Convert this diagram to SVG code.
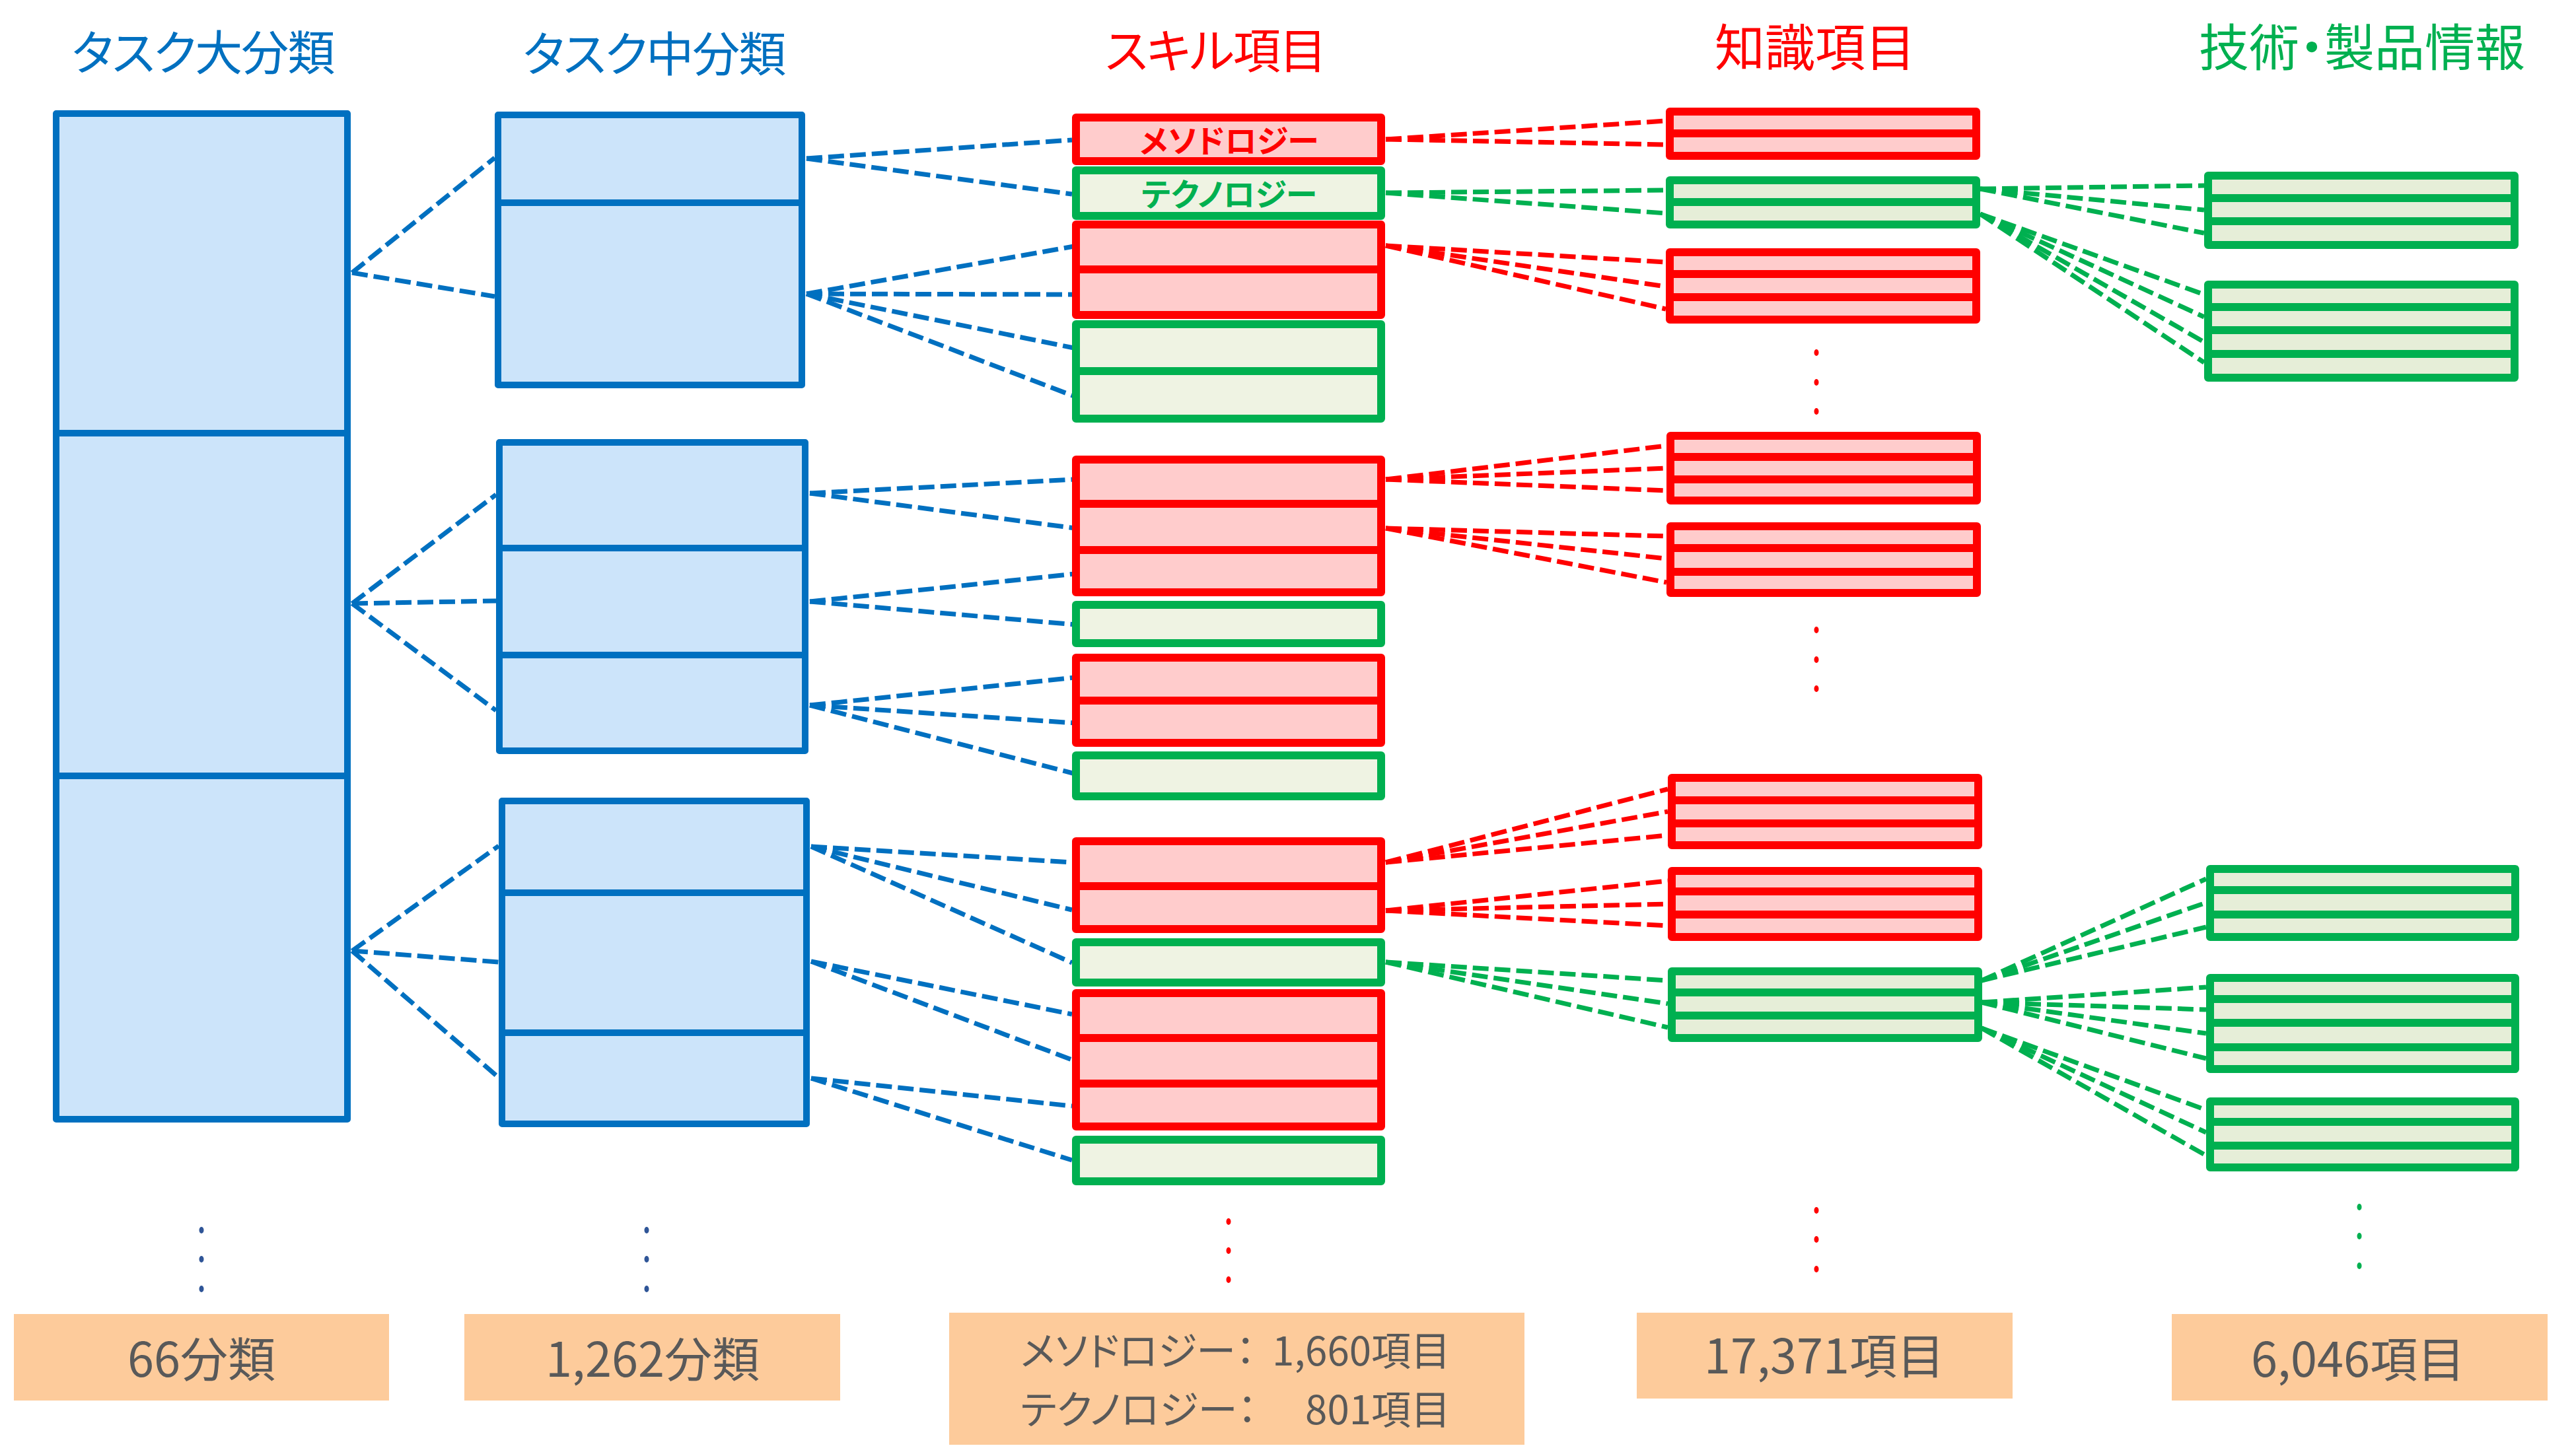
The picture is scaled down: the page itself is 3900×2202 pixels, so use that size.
<svg xmlns="http://www.w3.org/2000/svg" width="3900" height="2202" viewBox="0 0 3900 2202">
<style>
text{font-family:"Noto Sans CJK JP","Noto Sans CJK SC",sans-serif;font-feature-settings:"palt";}
.title{font-size:76px;text-anchor:middle}
.tk{font-size:72px;letter-spacing:-2px}
.tb{fill:#0070C0}.tr{fill:#FF0000}.tg{fill:#00B050}
.blue{fill:#CCE4FA;stroke:#0070C0;stroke-width:10;stroke-linejoin:round}
.red{fill:#FFCCCC;stroke:#FF0000;stroke-width:12;stroke-linejoin:round}
.g3{fill:#EFF3E3;stroke:#00B050;stroke-width:12;stroke-linejoin:round}
.g4{fill:#E6EED8;stroke:#00B050;stroke-width:12;stroke-linejoin:round}
.dr{stroke:#FF0000;stroke-width:12}
.dg{stroke:#00B050;stroke-width:12}
.lbl{font-size:48px;font-weight:bold;text-anchor:middle}
.cnt{fill:#FDCB9B}
.ct{fill:#595959;font-size:72px;text-anchor:middle}
.ct2{fill:#595959;font-size:60px}
#connectors line{fill:none;stroke-width:7;stroke-dasharray:24 9}
.cb line{stroke:#0070C0}.cr line{stroke:#FF0000}.cg line{stroke:#00B050}
.db{fill:#2F5597}.dre{fill:#FF0000}.dgr{fill:#00B050}
</style>

<g id="titles">
<text class="title tk tb" x="307" y="106">タスク大分類</text>
<text class="title tk tb" x="990" y="108">タスク中分類</text>
<text class="title tk tr" x="1840" y="103">スキル項目</text>
<text class="title tr" x="2748" y="100">知識項目</text>
<text class="title tg" x="3576" y="100">技術・製品情報</text>
</g>

<g id="connectors">
<g class="cb">
<line x1="533" y1="413" x2="749" y2="239"/>
<line x1="533" y1="413" x2="749" y2="449"/>
<line x1="533" y1="914" x2="751" y2="749"/>
<line x1="533" y1="914" x2="751" y2="910"/>
<line x1="533" y1="914" x2="751" y2="1076"/>
<line x1="533" y1="1440" x2="755" y2="1281"/>
<line x1="533" y1="1440" x2="755" y2="1457"/>
<line x1="533" y1="1440" x2="755" y2="1632"/>
<line x1="1221" y1="240" x2="1623" y2="212"/>
<line x1="1221" y1="240" x2="1623" y2="294"/>
<line x1="1221" y1="445" x2="1626" y2="373"/>
<line x1="1221" y1="445" x2="1626" y2="446"/>
<line x1="1221" y1="445" x2="1626" y2="527"/>
<line x1="1221" y1="445" x2="1626" y2="600"/>
<line x1="1226" y1="747" x2="1628" y2="726"/>
<line x1="1226" y1="747" x2="1628" y2="800"/>
<line x1="1226" y1="911" x2="1628" y2="869"/>
<line x1="1226" y1="911" x2="1628" y2="946"/>
<line x1="1226" y1="1068" x2="1628" y2="1026"/>
<line x1="1226" y1="1068" x2="1628" y2="1095"/>
<line x1="1226" y1="1068" x2="1628" y2="1172"/>
<line x1="1228" y1="1282" x2="1623" y2="1306"/>
<line x1="1228" y1="1282" x2="1623" y2="1378"/>
<line x1="1228" y1="1282" x2="1623" y2="1458"/>
<line x1="1228" y1="1456" x2="1623" y2="1536"/>
<line x1="1228" y1="1456" x2="1623" y2="1605"/>
<line x1="1228" y1="1633" x2="1623" y2="1675"/>
<line x1="1228" y1="1633" x2="1623" y2="1757"/>
</g>
<g class="cr">
<line x1="2098" y1="211" x2="2522" y2="183"/>
<line x1="2098" y1="211" x2="2522" y2="219"/>
<line x1="2098" y1="372" x2="2522" y2="397"/>
<line x1="2098" y1="372" x2="2522" y2="434"/>
<line x1="2098" y1="372" x2="2522" y2="468"/>
<line x1="2098" y1="726" x2="2523" y2="675"/>
<line x1="2098" y1="726" x2="2523" y2="709"/>
<line x1="2098" y1="726" x2="2523" y2="743"/>
<line x1="2098" y1="800" x2="2523" y2="812"/>
<line x1="2098" y1="800" x2="2523" y2="846"/>
<line x1="2098" y1="800" x2="2523" y2="882"/>
<line x1="2098" y1="1306" x2="2525" y2="1195"/>
<line x1="2098" y1="1306" x2="2525" y2="1229"/>
<line x1="2098" y1="1306" x2="2525" y2="1265"/>
<line x1="2098" y1="1379" x2="2525" y2="1334"/>
<line x1="2098" y1="1379" x2="2525" y2="1369"/>
<line x1="2098" y1="1379" x2="2525" y2="1402"/>
</g>
<g class="cg">
<line x1="2098" y1="292" x2="2522" y2="288"/>
<line x1="2098" y1="292" x2="2522" y2="323"/>
<line x1="2098" y1="1457" x2="2525" y2="1485"/>
<line x1="2098" y1="1457" x2="2525" y2="1520"/>
<line x1="2098" y1="1457" x2="2525" y2="1556"/>
<line x1="2998" y1="286" x2="3337" y2="281"/>
<line x1="2998" y1="286" x2="3337" y2="318"/>
<line x1="2998" y1="286" x2="3337" y2="353"/>
<line x1="2998" y1="324" x2="3337" y2="446"/>
<line x1="2998" y1="324" x2="3337" y2="480"/>
<line x1="2998" y1="324" x2="3337" y2="518"/>
<line x1="2998" y1="324" x2="3337" y2="549"/>
<line x1="3000" y1="1485" x2="3340" y2="1331"/>
<line x1="3000" y1="1485" x2="3340" y2="1367"/>
<line x1="3000" y1="1485" x2="3340" y2="1404"/>
<line x1="3000" y1="1518" x2="3340" y2="1495"/>
<line x1="3000" y1="1518" x2="3340" y2="1529"/>
<line x1="3000" y1="1518" x2="3340" y2="1565"/>
<line x1="3000" y1="1518" x2="3340" y2="1603"/>
<line x1="3000" y1="1557" x2="3340" y2="1681"/>
<line x1="3000" y1="1557" x2="3340" y2="1715"/>
<line x1="3000" y1="1557" x2="3340" y2="1750"/>
</g>
</g>

<g id="task-large">
<rect class="blue" x="85" y="172" width="441" height="484"/>
<rect class="blue" x="85" y="656" width="441" height="519"/>
<rect class="blue" x="85" y="1175" width="441" height="520"/>
</g>

<g id="task-mid-1">
<rect class="blue" x="754" y="174" width="460" height="133"/>
<rect class="blue" x="754" y="307" width="460" height="276"/>
</g>
<g id="task-mid-2">
<rect class="blue" x="756" y="670" width="463" height="160"/>
<rect class="blue" x="756" y="830" width="463" height="162"/>
<rect class="blue" x="756" y="992" width="463" height="145"/>
</g>
<g id="task-mid-3">
<rect class="blue" x="760" y="1213" width="461" height="139"/>
<rect class="blue" x="760" y="1352" width="461" height="212"/>
<rect class="blue" x="760" y="1564" width="461" height="138"/>
</g>

<g id="skill-1">
<rect class="red" x="1629" y="178" width="462" height="66"/>
<text class="lbl tr" x="1861" y="231">メソドロジー</text>
<rect class="g3" x="1629" y="258" width="462" height="69"/>
<text class="lbl tg" x="1861" y="312">テクノロジー</text>
<rect class="red" x="1629" y="340" width="462" height="68"/>
<rect class="red" x="1629" y="408" width="462" height="69"/>
<rect class="g3" x="1629" y="491" width="462" height="71"/>
<rect class="g3" x="1629" y="562" width="462" height="72"/>
</g>
<g id="skill-2">
<rect class="red" x="1629" y="696" width="462" height="67"/>
<rect class="red" x="1629" y="763" width="462" height="70"/>
<rect class="red" x="1629" y="833" width="462" height="64"/>
<rect class="g3" x="1629" y="916" width="462" height="58"/>
<rect class="red" x="1629" y="996" width="462" height="65"/>
<rect class="red" x="1629" y="1061" width="462" height="64"/>
<rect class="g3" x="1629" y="1144" width="462" height="62"/>
</g>
<g id="skill-3">
<rect class="red" x="1629" y="1274" width="462" height="68"/>
<rect class="red" x="1629" y="1342" width="462" height="65"/>
<rect class="g3" x="1629" y="1427" width="462" height="61"/>
<rect class="red" x="1629" y="1504" width="462" height="68"/>
<rect class="red" x="1629" y="1572" width="462" height="69"/>
<rect class="red" x="1629" y="1641" width="462" height="65"/>
<rect class="g3" x="1629" y="1726" width="462" height="63"/>
</g>

<g id="knowledge-1">
<rect class="red" x="2528" y="169" width="464" height="67"/>
<line class="dr" x1="2528" y1="202" x2="2992" y2="202"/>
</g>
<g id="knowledge-2">
<rect class="g4" x="2528" y="273" width="464" height="67"/>
<line class="dg" x1="2528" y1="306" x2="2992" y2="306"/>
</g>
<g id="knowledge-3">
<rect class="red" x="2528" y="382" width="464" height="102"/>
<line class="dr" x1="2528" y1="415" x2="2992" y2="415"/>
<line class="dr" x1="2528" y1="450" x2="2992" y2="450"/>
</g>
<g id="knowledge-4">
<rect class="red" x="2529" y="660" width="464" height="98"/>
<line class="dr" x1="2529" y1="692" x2="2993" y2="692"/>
<line class="dr" x1="2529" y1="726" x2="2993" y2="726"/>
</g>
<g id="knowledge-5">
<rect class="red" x="2529" y="797" width="464" height="101"/>
<line class="dr" x1="2529" y1="830" x2="2993" y2="830"/>
<line class="dr" x1="2529" y1="866" x2="2993" y2="866"/>
</g>
<g id="knowledge-6">
<rect class="red" x="2531" y="1178" width="464" height="102"/>
<line class="dr" x1="2531" y1="1212" x2="2995" y2="1212"/>
<line class="dr" x1="2531" y1="1247" x2="2995" y2="1247"/>
</g>
<g id="knowledge-7">
<rect class="red" x="2531" y="1319" width="464" height="100"/>
<line class="dr" x1="2531" y1="1350" x2="2995" y2="1350"/>
<line class="dr" x1="2531" y1="1385" x2="2995" y2="1385"/>
</g>
<g id="knowledge-8">
<rect class="g4" x="2531" y="1471" width="464" height="101"/>
<line class="dg" x1="2531" y1="1503" x2="2995" y2="1503"/>
<line class="dg" x1="2531" y1="1538" x2="2995" y2="1538"/>
</g>

<g id="tech-1">
<rect class="g4" x="3343" y="266" width="464" height="105"/>
<line class="dg" x1="3343" y1="300" x2="3807" y2="300"/>
<line class="dg" x1="3343" y1="335" x2="3807" y2="335"/>
</g>
<g id="tech-2">
<rect class="g4" x="3343" y="431" width="464" height="141"/>
<line class="dg" x1="3343" y1="465" x2="3807" y2="465"/>
<line class="dg" x1="3343" y1="500" x2="3807" y2="500"/>
<line class="dg" x1="3343" y1="536" x2="3807" y2="536"/>
</g>
<g id="tech-3">
<rect class="g4" x="3346" y="1316" width="462" height="103"/>
<line class="dg" x1="3346" y1="1348" x2="3808" y2="1348"/>
<line class="dg" x1="3346" y1="1385" x2="3808" y2="1385"/>
</g>
<g id="tech-4">
<rect class="g4" x="3346" y="1481" width="462" height="138"/>
<line class="dg" x1="3346" y1="1513" x2="3808" y2="1513"/>
<line class="dg" x1="3346" y1="1549" x2="3808" y2="1549"/>
<line class="dg" x1="3346" y1="1586" x2="3808" y2="1586"/>
</g>
<g id="tech-5">
<rect class="g4" x="3346" y="1668" width="462" height="100"/>
<line class="dg" x1="3346" y1="1699" x2="3808" y2="1699"/>
<line class="dg" x1="3346" y1="1735" x2="3808" y2="1735"/>
</g>

<g id="ellipses">
<ellipse class="db" cx="305" cy="1863" rx="3.5" ry="5"/>
<ellipse class="db" cx="305" cy="1907" rx="3.5" ry="5"/>
<ellipse class="db" cx="305" cy="1952" rx="3.5" ry="5"/>
<ellipse class="db" cx="979" cy="1863" rx="3.5" ry="5"/>
<ellipse class="db" cx="979" cy="1907" rx="3.5" ry="5"/>
<ellipse class="db" cx="979" cy="1952" rx="3.5" ry="5"/>
<ellipse class="dre" cx="1860" cy="1850" rx="3.5" ry="5"/>
<ellipse class="dre" cx="1860" cy="1894" rx="3.5" ry="5"/>
<ellipse class="dre" cx="1860" cy="1938" rx="3.5" ry="5"/>
<ellipse class="dre" cx="2750" cy="534" rx="3.5" ry="5"/>
<ellipse class="dre" cx="2750" cy="579" rx="3.5" ry="5"/>
<ellipse class="dre" cx="2750" cy="623" rx="3.5" ry="5"/>
<ellipse class="dre" cx="2750" cy="954" rx="3.5" ry="5"/>
<ellipse class="dre" cx="2750" cy="999" rx="3.5" ry="5"/>
<ellipse class="dre" cx="2750" cy="1043" rx="3.5" ry="5"/>
<ellipse class="dre" cx="2750" cy="1833" rx="3.5" ry="5"/>
<ellipse class="dre" cx="2750" cy="1877" rx="3.5" ry="5"/>
<ellipse class="dre" cx="2750" cy="1922" rx="3.5" ry="5"/>
<ellipse class="dgr" cx="3572" cy="1828" rx="3.5" ry="5"/>
<ellipse class="dgr" cx="3572" cy="1872" rx="3.5" ry="5"/>
<ellipse class="dgr" cx="3572" cy="1917" rx="3.5" ry="5"/>
</g>

<g id="count-large">
<rect class="cnt" x="21" y="1990" width="568" height="131"/>
<text class="ct" x="305" y="2085">66分類</text>
</g>
<g id="count-mid">
<rect class="cnt" x="703" y="1990" width="569" height="131"/>
<text class="ct" x="988" y="2085">1,262分類</text>
</g>
<g id="count-skill">
<rect class="cnt" x="1437" y="1988" width="871" height="200"/>
<text class="ct2"><tspan x="1545" y="2068">メソドロジー：</tspan><tspan x="2196" y="2068" text-anchor="end">1,660項目</tspan><tspan x="1545" y="2157">テクノロジー：</tspan><tspan x="2196" y="2157" text-anchor="end">801項目</tspan></text>
</g>
<g id="count-knowledge">
<rect class="cnt" x="2478" y="1988" width="569" height="130"/>
<text class="ct" x="2762" y="2080">17,371項目</text>
</g>
<g id="count-tech">
<rect class="cnt" x="3288" y="1990" width="569" height="131"/>
<text class="ct" x="3570" y="2085">6,046項目</text>
</g>
</svg>
